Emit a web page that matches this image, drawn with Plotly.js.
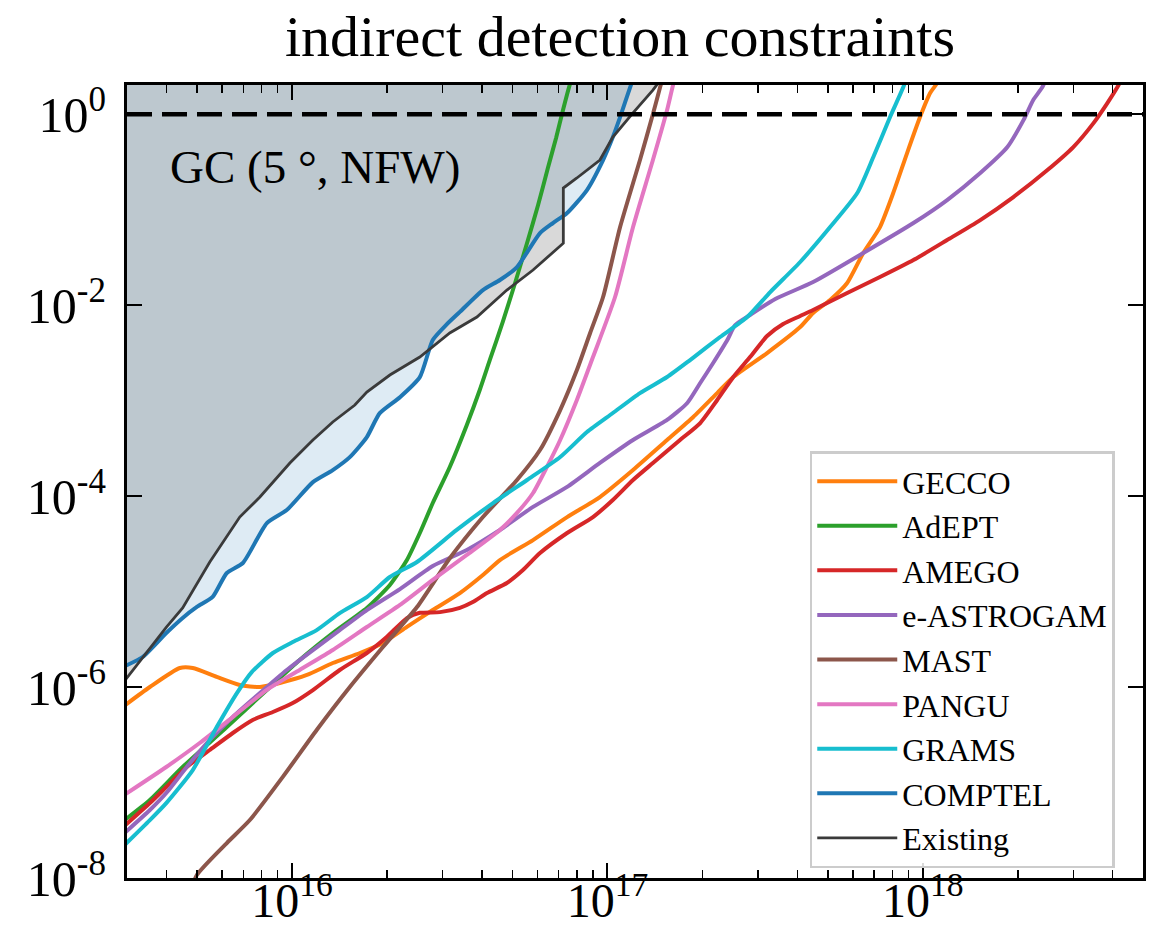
<!DOCTYPE html>
<html>
<head>
<meta charset="utf-8">
<script src="https://cdn.plot.ly/plotly-3.0.1.min.js"></script>
<style>
  html, body { margin: 0; padding: 0; background: #ffffff; }
  #chart { width: 1152px; height: 933px; }
</style>
</head>
<body>
<div id="chart"></div>
<script>
// PBH mass (log10 of M in grams) and bound on f_PBH (log10) for each instrument.
const gecco_logM = [15.470, 15.549, 15.644, 15.685, 15.761, 15.834, 15.898, 15.961, 16.047, 16.129, 16.215, 16.288, 16.364, 16.446, 16.532, 16.605, 16.659, 16.764, 16.872, 16.976, 17.081, 17.189, 17.272, 17.348, 17.399, 17.506, 17.611, 17.652, 17.706, 17.760, 17.811, 17.864, 17.906, 17.950, 17.991, 18.023, 18.045, 18.070];
const gecco_logF = [-6.190, -5.999, -5.800, -5.800, -5.894, -5.978, -5.999, -5.957, -5.873, -5.748, -5.643, -5.538, -5.370, -5.193, -5.015, -4.826, -4.669, -4.460, -4.219, -4.009, -3.726, -3.412, -3.171, -2.920, -2.752, -2.501, -2.229, -2.081, -1.945, -1.767, -1.453, -1.181, -0.825, -0.406, -0.029, 0.223, 0.328, 0.550];

const adept_logM = [15.470, 15.549, 15.653, 15.793, 15.920, 16.024, 16.129, 16.237, 16.310, 16.364, 16.405, 16.446, 16.500, 16.554, 16.595, 16.627, 16.668, 16.707, 16.745, 16.780, 16.811, 16.837, 16.859, 16.881, 16.906];
const adept_logF = [-7.390, -7.183, -6.837, -6.418, -6.030, -5.716, -5.434, -5.172, -4.931, -4.669, -4.386, -4.072, -3.694, -3.254, -2.888, -2.573, -2.175, -1.767, -1.348, -0.950, -0.562, -0.248, 0.045, 0.317, 0.569];

const amego_logM = [15.470, 15.549, 15.601, 15.666, 15.739, 15.812, 15.875, 15.939, 16.002, 16.066, 16.151, 16.237, 16.300, 16.364, 16.405, 16.469, 16.532, 16.573, 16.618, 16.681, 16.732, 16.786, 16.872, 16.954, 17.017, 17.081, 17.144, 17.230, 17.294, 17.348, 17.399, 17.452, 17.506, 17.557, 17.611, 17.652, 17.760, 17.864, 17.970, 18.077, 18.182, 18.287, 18.395, 18.477, 18.541, 18.585, 18.617, 18.649];
const amego_logF = [-7.450, -7.215, -7.047, -6.837, -6.659, -6.481, -6.345, -6.261, -6.167, -6.031, -5.821, -5.643, -5.476, -5.277, -5.222, -5.215, -5.170, -5.109, -5.015, -4.910, -4.774, -4.596, -4.386, -4.219, -4.040, -3.831, -3.653, -3.412, -3.234, -2.993, -2.752, -2.543, -2.323, -2.197, -2.113, -2.050, -1.872, -1.705, -1.527, -1.317, -1.108, -0.867, -0.584, -0.343, -0.092, 0.118, 0.286, 0.485];

const eastrogam_logM = [15.470, 15.549, 15.601, 15.666, 15.739, 15.812, 15.898, 15.983, 16.066, 16.151, 16.237, 16.342, 16.446, 16.554, 16.659, 16.764, 16.872, 16.976, 17.081, 17.189, 17.253, 17.294, 17.335, 17.380, 17.405, 17.452, 17.532, 17.652, 17.811, 17.970, 18.077, 18.182, 18.268, 18.319, 18.350, 18.379, 18.410];
const eastrogam_logF = [-7.525, -7.288, -7.110, -6.837, -6.554, -6.313, -6.062, -5.821, -5.612, -5.403, -5.193, -4.973, -4.732, -4.564, -4.354, -4.113, -3.903, -3.652, -3.412, -3.202, -3.024, -2.815, -2.605, -2.364, -2.207, -2.102, -1.935, -1.757, -1.453, -1.139, -0.898, -0.615, -0.343, -0.061, 0.150, 0.286, 0.516];

const mast_logM = [15.676, 15.698, 15.793, 15.866, 15.970, 16.078, 16.183, 16.288, 16.396, 16.500, 16.605, 16.713, 16.786, 16.850, 16.903, 16.945, 16.986, 17.040, 17.103, 17.145, 17.167, 17.189];
const mast_logF = [-8.160, -7.969, -7.634, -7.393, -6.943, -6.450, -6.000, -5.581, -5.162, -4.651, -4.219, -3.831, -3.517, -3.098, -2.679, -2.291, -1.914, -1.181, -0.479, 0.013, 0.285, 0.547];

const pangu_logM = [15.470, 15.601, 15.707, 15.812, 15.920, 16.024, 16.129, 16.237, 16.342, 16.446, 16.554, 16.659, 16.713, 16.764, 16.808, 16.850, 16.903, 16.954, 17.024, 17.081, 17.144, 17.189, 17.208, 17.230];
const pangu_logF = [-7.125, -6.837, -6.586, -6.313, -6.030, -5.821, -5.612, -5.371, -5.140, -4.878, -4.616, -4.354, -4.176, -3.967, -3.694, -3.412, -2.993, -2.543, -1.914, -1.181, -0.479, 0.045, 0.307, 0.547];

const grams_logM = [15.470, 15.549, 15.601, 15.685, 15.761, 15.825, 15.872, 15.939, 16.002, 16.078, 16.151, 16.237, 16.310, 16.396, 16.522, 16.637, 16.745, 16.850, 16.935, 17.017, 17.103, 17.189, 17.262, 17.357, 17.443, 17.516, 17.611, 17.706, 17.792, 17.843, 17.896, 17.938, 17.966];
const grams_logF = [-7.650, -7.393, -7.215, -6.869, -6.418, -6.063, -5.843, -5.643, -5.528, -5.403, -5.225, -5.057, -4.847, -4.690, -4.354, -4.072, -3.831, -3.590, -3.328, -3.129, -2.920, -2.752, -2.574, -2.333, -2.124, -1.862, -1.547, -1.181, -0.825, -0.447, -0.029, 0.285, 0.547];

const comptel_logM = [15.470, 15.526, 15.601, 15.653, 15.698, 15.748, 15.793, 15.844, 15.920, 15.983, 16.066, 16.129, 16.183, 16.237, 16.278, 16.342, 16.405, 16.446, 16.488, 16.532, 16.605, 16.659, 16.713, 16.786, 16.827, 16.872, 16.935, 16.986, 17.017, 17.040, 17.071, 17.100];
const comptel_logF = [-5.780, -5.685, -5.434, -5.276, -5.161, -5.056, -4.805, -4.700, -4.282, -4.146, -3.853, -3.727, -3.591, -3.381, -3.130, -2.963, -2.753, -2.365, -2.208, -2.070, -1.841, -1.736, -1.600, -1.244, -1.139, -1.034, -0.793, -0.479, -0.239, -0.029, 0.275, 0.550];

const existing_logM = [15.470, 15.526, 15.6015, 15.653, 15.739, 15.834, 15.898, 15.993, 16.066, 16.129, 16.199, 16.237, 16.310, 16.405, 16.500, 16.586, 16.681, 16.764, 16.860, 16.860, 16.903, 16.976, 17.017, 17.081, 17.144, 17.200];
const existing_logF = [-5.930, -5.687, -5.371, -5.172, -4.690, -4.219, -4.009, -3.653, -3.412, -3.223, -3.045, -2.909, -2.731, -2.543, -2.291, -2.124, -1.841, -1.631, -1.350, -0.772, -0.667, -0.479, -0.239, 0.014, 0.254, 0.500];

// Axis ticks
const massTicks = [1e16, 1e17, 1e18];
const massTickText = ['10<sup>16</sup>', '10<sup>17</sup>', '10<sup>18</sup>'];
const fTicks = [1, 1e-2, 1e-4, 1e-6, 1e-8];
const fTickText = ['10<sup>0</sup>', '10<sup>-2</sup>', '10<sup>-4</sup>', '10<sup>-6</sup>', '10<sup>-8</sup>'];

// f_PBH = 1 reference level, and a value above the visible range used to close the excluded regions
const UNITY = 1;
const FILL_CEILING = 10;

const SERIF = '"Liberation Serif", "Times New Roman", serif';

const pow10 = arr => arr.map(v => Math.pow(10, v));

const minorMass = [];
for (let d = 15; d <= 18; d++) {
  for (let k = 2; k <= 9; k++) minorMass.push(k * Math.pow(10, d));
}

// Excluded regions: area above each existing bound
function shadeAbove(logM, logF, color, shape) {
  const x = pow10(logM);
  return [
    { x: x, y: logM.map(() => FILL_CEILING), mode: 'lines', line: { width: 0 },
      showlegend: false, hoverinfo: 'skip' },
    { x: x, y: pow10(logF), mode: 'lines', line: { width: 0, shape: shape, smoothing: 0.6 },
      fill: 'tonexty', fillcolor: color, showlegend: false, hoverinfo: 'skip' }
  ];
}

function curve(name, logM, logF, color, width, shape) {
  return { x: pow10(logM), y: pow10(logF), name: name, mode: 'lines',
           line: { color: color, width: width, shape: shape || 'spline', smoothing: 0.6 } };
}

const traces = [].concat(
  shadeAbove(comptel_logM, comptel_logF, 'rgba(31,119,180,0.15)', 'spline'),
  shadeAbove(existing_logM, existing_logF, 'rgba(0,0,0,0.15)', 'linear'),
  [
    curve('GECCO', gecco_logM, gecco_logF, '#ff7f0e', 4),
    curve('AdEPT', adept_logM, adept_logF, '#2ca02c', 4),
    curve('AMEGO', amego_logM, amego_logF, '#d62728', 4),
    curve('e-ASTROGAM', eastrogam_logM, eastrogam_logF, '#9467bd', 4),
    curve('MAST', mast_logM, mast_logF, '#8c564b', 4),
    curve('PANGU', pangu_logM, pangu_logF, '#e377c2', 4),
    curve('GRAMS', grams_logM, grams_logF, '#17becf', 4),
    curve('COMPTEL', comptel_logM, comptel_logF, '#1f77b4', 4),
    curve('Existing', existing_logM, existing_logF, '#3a3a3a', 2.8, 'linear')
  ]
);

const axisCommon = {
  type: 'log',
  showline: true, linecolor: '#000000', linewidth: 3, mirror: 'allticks',
  ticks: 'inside', tickcolor: '#000000', tickwidth: 2, ticklen: 15,
  showgrid: false, zeroline: false,
  tickmode: 'array'
};

const layout = {
  width: 1152, height: 933,
  paper_bgcolor: '#ffffff', plot_bgcolor: '#ffffff',
  margin: { l: 127, r: 9, t: 85, b: 55 },
  title: {
    text: 'indirect detection constraints',
    font: { family: SERIF, size: 58, color: '#000000' },
    xref: 'container', x: 620 / 1152, xanchor: 'center',
    yref: 'container', y: 1 - 36 / 933, yanchor: 'middle'
  },
  xaxis: Object.assign({}, axisCommon, {
    range: [15.4765, 18.698],
    tickvals: massTicks, ticktext: massTickText,
    tickfont: { family: SERIF, size: 48, color: '#000000' },
    ticklabelstandoff: -22,
    minor: { tickmode: 'array', tickvals: minorMass, ticks: 'inside', ticklen: 8,
             tickwidth: 1.5, tickcolor: '#000000', showgrid: false }
  }),
  yaxis: Object.assign({}, axisCommon, {
    range: [-8, 0.307],
    tickvals: fTicks, ticktext: fTickText,
    tickfont: { family: SERIF, size: 50, color: '#000000' },
    ticklabelstandoff: 8
  }),
  shapes: [{
    type: 'line', xref: 'paper', x0: 0, x1: 1, yref: 'y', y0: UNITY, y1: UNITY,
    line: { color: '#000000', width: 4.5, dash: '25px,10px' }, layer: 'above'
  }],
  annotations: [{
    text: 'GC (5 °, NFW)', showarrow: false,
    xref: 'paper', x: 0.0404, xanchor: 'left',
    yref: 'paper', y: 0.8966, yanchor: 'middle',
    font: { family: SERIF, size: 47, color: '#000000' }
  }],
  legend: {
    x: 0.672, y: 0.538, xanchor: 'left', yanchor: 'top',
    traceorder: 'normal',
    bgcolor: 'rgba(255,255,255,0.85)', bordercolor: '#cccccc', borderwidth: 2.5,
    font: { family: SERIF, size: 32, color: '#000000' },
    itemwidth: 80, tracegroupgap: 0
  },
  showlegend: true
};

Plotly.newPlot('chart', traces, layout, { staticPlot: true, displayModeBar: false });
</script>
</body>
</html>
